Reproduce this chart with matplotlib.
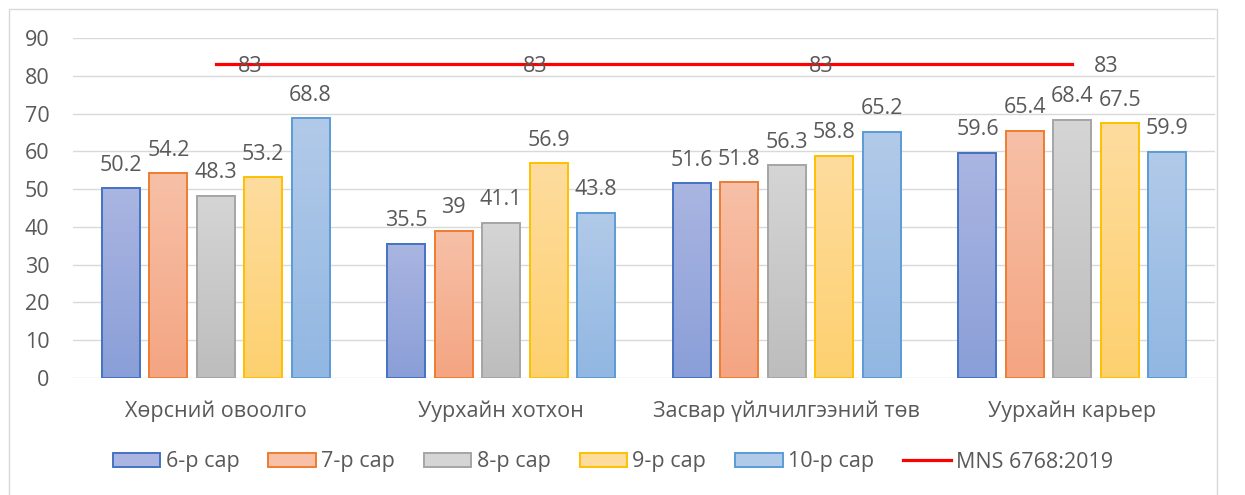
import numpy as np
import matplotlib
matplotlib.use("Agg")
import matplotlib.pyplot as plt
from matplotlib.colors import to_rgb
from matplotlib.patches import Patch, Rectangle
from matplotlib.lines import Line2D

plt.rcParams['font.family'] = ['Open Sans', 'DejaVu Sans']

categories = ["Хөрсний овоолго", "Уурхайн хотхон", "Засвар үйлчилгээний төв", "Уурхайн карьер"]
months = ["6-р сар", "7-р сар", "8-р сар", "9-р сар", "10-р сар"]
m6 = [50.2, 35.5, 51.6, 59.6]
m7 = [54.2, 39, 51.8, 65.4]
m8 = [48.3, 41.1, 56.3, 68.4]
m9 = [53.2, 56.9, 58.8, 67.5]
m10 = [68.8, 43.8, 65.2, 59.9]
standard = [83, 83, 83, 83]
std_name = "MNS 6768:2019"

series = [m6, m7, m8, m9, m10]
# (top colour, bottom colour, edge colour)
styles = [("#aab5e1", "#8a9fd8", "#4472c4"),
          ("#f7c0a7", "#f4a582", "#ed7d31"),
          ("#d5d5d5", "#bdbdbd", "#a5a5a5"),
          ("#fedc9e", "#fdd06f", "#ffc000"),
          ("#b2cae9", "#91b7e2", "#5b9bd5")]
txt = "#595959"
fs = 15.5

fig = plt.figure(figsize=(12.45, 4.95), dpi=100)
ax = fig.add_axes([73 / 1245, 1 - 378 / 495, (1215 - 73) / 1245, 340 / 495])

x = np.arange(len(categories))
step = 0.166
width = 0.133
ylim = (0, 90)

for i, vals in enumerate(series):
    top, bot, edge = styles[i]
    bars = ax.bar(x + (i - 2) * step, vals, width, facecolor="none",
                  edgecolor=edge, linewidth=1.4, zorder=3)
    grad = np.linspace(0, 1, 64)[:, None, None]
    img = (1 - grad) * np.array(to_rgb(top)) + grad * np.array(to_rgb(bot))
    for b in bars:
        ax.imshow(img, extent=[b.get_x(), b.get_x() + b.get_width(), 0, b.get_height()],
                  aspect="auto", interpolation="bilinear", zorder=2)
    ax.bar_label(bars, labels=[f"{v:g}" for v in vals], padding=9,
                 color=txt, fontsize=fs)

ax.plot(x, standard, color="#ff0000", lw=2.3, zorder=4)
for xi, v in zip(x, standard):
    ax.annotate(f"{v}", (xi, v), xytext=(22, -2), textcoords="offset pixels",
                ha="left", va="center", color=txt, fontsize=fs, zorder=5)

ax.set_xlim(-0.5, len(categories) - 0.5)
ax.set_ylim(*ylim)
ax.set_yticks(np.arange(0, 91, 10))
ax.set_xticks(x)
ax.set_xticklabels(categories)
ax.yaxis.grid(True, color="#d9d9d9", lw=1)
ax.set_axisbelow(True)
for s in ax.spines.values():
    s.set_visible(False)
ax.tick_params(axis="both", length=0, colors=txt, labelsize=fs)
ax.tick_params(axis="x", pad=16)
ax.tick_params(axis="y", pad=17)

handles = [Patch(facecolor=st[0], edgecolor=st[2], lw=1.4) for st in styles]
handles.append(Line2D([], [], color="#ff0000", lw=2.3))
fig.legend(handles, months + [std_name], loc="center", ncol=6,
           bbox_to_anchor=(613 / 1245, 1 - 462 / 495), frameon=False,
           fontsize=fs, labelcolor=txt, handlelength=2.2, handleheight=0.65,
           handletextpad=0.25, columnspacing=1.35)

fig.add_artist(Rectangle((9 / 1245, -0.1), (1217 - 9) / 1245, 1.1 - 9 / 495,
                         transform=fig.transFigure, fill=False,
                         edgecolor="#d9d9d9", lw=1))

fig.savefig("out.png", dpi=100)
